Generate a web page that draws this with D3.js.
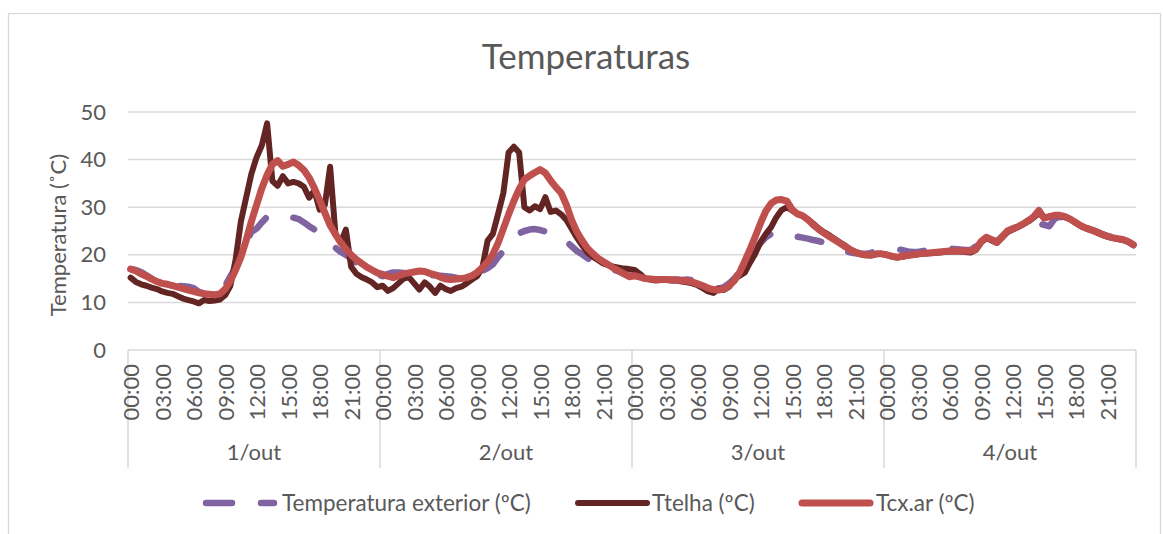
<!DOCTYPE html>
<html>
<head>
<meta charset="utf-8">
<script src="https://cdn.jsdelivr.net/npm/d3@7"></script>
<style>
  html, body { margin: 0; padding: 0; background: #fff; }
  svg { display: block; font-family: Lato, "Open Sans", sans-serif; }
</style>
</head>
<body>
<svg id="chart" width="1163" height="534"></svg>
<script>
// ---- DATA ----
const title = "Temperaturas";
const yTitle = "Temperatura (˚C)";
const days = ["1/out", "2/out", "3/out", "4/out"];
const hourLabels = ["00:00", "03:00", "06:00", "09:00", "12:00", "15:00", "18:00", "21:00"];
const yTicks = [0, 10, 20, 30, 40, 50];
const seriesNames = ["Temperatura exterior (ºC)", "Ttelha (ºC)", "Tcx.ar (ºC)"];

// half-hourly readings, 48 per day
const tExterior = [
  17.0,16.8,16.4,15.7,15.0,14.5,14.1,13.8,13.6,13.5,13.4,13.3, 13.0,12.2,11.9,11.8,11.8,12.2,13.5,15.5,17.2,19.5,22.5,24.8,
  25.5,26.8,28.0,28.5,28.4,28.2,28.0,27.8,27.5,26.8,26.0,25.3, 24.6,23.5,22.5,21.5,20.6,20.0,19.2,18.3,17.5,16.9,16.3,15.8,
  15.5,16.0,16.3,16.3,16.2,16.2,16.0,15.8,15.8,15.7,15.7,15.6, 15.5,15.4,15.2,15.2,15.4,15.6,16.0,16.6,17.2,18.0,19.5,20.8,
  22.0,23.5,24.5,25.0,25.3,25.4,25.2,24.9,24.6,24.2,23.6,22.8, 21.8,20.8,20.1,19.3,18.6,18.0,17.6,17.2,16.9,16.5,16.0,15.6,
  15.6,15.4,15.2,15.0,14.9,14.8,14.8,14.8,14.8,14.7,14.8,14.7, 14.4,13.8,13.3,13.0,12.9,13.2,14.0,15.0,16.5,18.2,19.8,21.3,
  22.5,23.7,24.4,24.6,24.9,24.6,24.0,23.8,23.6,23.4,23.1,22.9, 22.6,22.0,21.5,21.1,20.8,20.5,20.3,20.2,20.2,20.4,20.9,21.1,
  21.0,21.1,21.2,21.0,20.7,20.6,20.6,20.8,21.0,21.4,21.5,21.4, 21.3,21.2,21.1,21.0,21.0,21.8,24.0,24.4,23.3,22.8,23.8,24.8,
  25.4,25.8,26.2,26.4,26.6,26.5,26.3,26.0,27.6,28.0,27.8,27.3, 26.6,26.0,25.6,25.3,24.9,24.4,24.0,23.6,23.3,22.9,22.5,22.3
];
const tTelha = [
  15.2,14.3,13.8,13.5,13.1,12.8,12.3,12.0,11.8,11.3,10.8,10.5, 10.2,9.8,10.5,10.3,10.4,10.6,11.5,13.5,19.0,27.0,32.0,37.0,
  40.5,43.0,47.6,35.5,34.5,36.5,35.0,35.3,35.0,34.3,32.0,33.5, 29.5,30.5,38.5,24.5,22.5,25.3,17.5,16.0,15.3,14.8,14.2,13.2,
  13.5,12.4,13.0,14.0,15.0,15.3,14.0,12.7,14.2,13.3,12.0,13.5, 12.8,12.4,13.0,13.3,14.0,14.8,15.5,17.3,23.0,24.4,28.6,33.0,
  41.5,42.7,41.5,30.0,29.3,30.2,29.6,32.1,29.0,29.3,28.5,27.3, 25.5,23.6,22.0,20.5,19.6,18.9,18.2,17.8,17.5,17.3,17.1,17.0,
  16.8,16.0,15.0,14.8,14.6,14.7,14.8,14.6,14.6,14.4,14.2,14.0, 13.6,13.0,12.3,12.0,12.9,12.6,13.3,14.9,15.6,16.3,18.4,20.3,
  22.7,24.4,25.8,27.9,29.4,30.0,29.3,28.6,28.2,27.4,26.6,25.6, 24.8,24.2,23.4,22.7,22.0,21.2,20.6,20.1,19.9,19.9,20.1,20.2,
  20.0,19.6,19.4,19.6,19.8,20.0,20.1,20.2,20.3,20.4,20.5,20.6, 20.7,20.7,20.7,20.6,20.5,21.0,22.6,23.5,23.0,22.5,23.6,24.8,
  25.3,25.8,26.4,27.0,27.8,28.8,27.8,28.0,28.2,28.2,27.9,27.4, 26.7,26.0,25.5,25.1,24.7,24.2,23.8,23.5,23.3,23.1,22.7,22.0
];
const tCxAr = [
  17.0,16.6,16.0,15.5,14.9,14.4,14.0,13.8,13.5,13.2,12.9,12.6, 12.3,12.0,11.8,11.7,11.6,11.8,12.8,14.5,16.8,19.5,23.0,27.0,
  30.5,34.0,36.8,39.0,39.8,38.6,39.0,39.5,38.8,37.8,36.2,34.0, 31.5,28.8,26.2,24.3,22.6,21.2,20.0,19.0,18.2,17.4,16.8,16.2,
  15.9,15.5,15.2,15.6,16.0,16.2,16.4,16.6,16.5,16.1,15.8,15.3, 14.9,14.8,14.9,15.0,15.2,15.6,16.3,17.3,18.5,20.1,22.5,25.5,
  28.5,31.3,33.8,35.8,36.6,37.3,37.9,37.2,35.6,34.2,33.0,30.5, 27.3,24.8,23.0,21.4,20.3,19.3,18.6,17.9,17.2,16.6,16.0,15.4,
  15.6,15.3,15.0,14.9,14.8,14.8,14.8,14.7,14.7,14.6,14.5,14.3, 13.9,13.5,13.0,12.7,12.6,12.8,13.5,14.6,16.3,18.7,21.2,23.9,
  26.7,29.2,30.8,31.5,31.6,31.3,29.5,28.6,28.2,27.4,26.3,25.4, 24.6,23.9,23.2,22.5,21.8,21.1,20.6,20.2,20.0,19.9,20.2,20.2,
  20.0,19.7,19.5,19.7,19.9,20.0,20.2,20.3,20.4,20.5,20.6,20.7, 20.8,20.8,20.8,20.8,20.8,21.2,22.8,23.7,23.2,22.6,23.8,25.0,
  25.5,25.9,26.5,27.2,28.0,29.3,27.7,28.0,28.3,28.3,28.0,27.5, 26.8,26.1,25.6,25.2,24.8,24.3,23.9,23.6,23.4,23.2,22.8,22.1
];

// ---- LAYOUT ----
const textColor = "#595959";
const gridColor = "#D9D9D9";
const colors = ["#8064A2", "#632523", "#C0504D"];
const widths = [6.5, 6, 7];
const plot = { left: 128, right: 1136, top: 112, bottom: 350 };
const perDay = tCxAr.length / days.length;
const tickFont = 22;

const svg = d3.select("#chart");

// outer border
svg.append("rect").attr("x", 8.5).attr("y", 13.5).attr("width", 1152).attr("height", 540)
  .attr("fill", "#fff").attr("stroke", gridColor).attr("stroke-width", 1.3);

const x = d3.scaleBand().domain(d3.range(tCxAr.length)).range([plot.left, plot.right]);
const px = i => x(i) + x.bandwidth() / 2;
const y = d3.scaleLinear().domain([0, 50]).range([plot.bottom, plot.top]);
const dayScale = d3.scaleBand().domain(days).range([plot.left, plot.right]);

// title
svg.append("text").attr("x", 586).attr("y", 69).attr("text-anchor", "middle")
  .attr("font-size", 35).attr("fill", textColor).text(title);

// gridlines
svg.append("g").selectAll("line").data(yTicks.filter(t => t > 0)).join("line")
  .attr("x1", plot.left).attr("x2", plot.right)
  .attr("y1", d => y(d)).attr("y2", d => y(d))
  .attr("stroke", gridColor).attr("stroke-width", 1.5);

// y axis labels
const yAxis = d3.axisLeft(y).tickValues(yTicks).tickSize(0).tickPadding(0);
const gy = svg.append("g").attr("transform", "translate(106,0)").call(yAxis);
gy.select(".domain").remove();
gy.selectAll("text").attr("font-size", tickFont).attr("fill", textColor).attr("font-family", "Lato");

// y title
svg.append("text").attr("transform", "translate(66,235) rotate(-90)")
  .attr("text-anchor", "middle").attr("font-size", 22).attr("fill", textColor).text(yTitle);

// x axis line
svg.append("line").attr("x1", plot.left).attr("x2", plot.right)
  .attr("y1", plot.bottom).attr("y2", plot.bottom)
  .attr("stroke", gridColor).attr("stroke-width", 1.5);

// day separators
const bounds = days.map(d => dayScale(d)).concat([plot.right]);
svg.append("g").selectAll("line").data(bounds).join("line")
  .attr("x1", d => d).attr("x2", d => d).attr("y1", plot.bottom).attr("y2", 468)
  .attr("stroke", gridColor).attr("stroke-width", 1.5);

// hour labels
const xAxis = d3.axisBottom(x)
  .tickValues(d3.range(0, tCxAr.length, perDay / hourLabels.length))
  .tickFormat(i => hourLabels[(i % perDay) / (perDay / hourLabels.length)])
  .tickSize(0);
const gx = svg.append("g").attr("transform", `translate(0,${plot.bottom})`).call(xAxis);
gx.select(".domain").remove();
gx.selectAll("text")
  .attr("transform", "rotate(-90)")
  .attr("x", -14).attr("y", 0).attr("dy", "0.4em")
  .attr("text-anchor", "end")
  .attr("font-size", tickFont).attr("font-family", "Lato").attr("fill", textColor);

// day labels
svg.append("g").selectAll("text").data(days).join("text")
  .attr("x", d => dayScale(d) + dayScale.bandwidth() / 2).attr("y", 460)
  .attr("text-anchor", "middle").attr("font-size", 22).attr("fill", textColor)
  .text(d => d);

// lines
const series = [tExterior, tTelha, tCxAr];
const line = d3.line().x((d, i) => px(i)).y(d => y(d));
series.forEach((s, k) => {
  svg.append("path").datum(s).attr("d", line)
    .attr("fill", "none").attr("stroke", colors[k]).attr("stroke-width", widths[k])
    .attr("stroke-linejoin", "round").attr("stroke-linecap", "round")
    .attr("stroke-dasharray", k === 0 ? "24,29" : null);
});

// legend
const legend = [
  { x1: 206, x2: 274, tx: 282 },
  { x1: 578, x2: 647, tx: 652 },
  { x1: 802, x2: 870, tx: 876 }
];
legend.forEach((l, k) => {
  svg.append("line").attr("x1", l.x1).attr("x2", l.x2).attr("y1", 503).attr("y2", 503)
    .attr("stroke", colors[k]).attr("stroke-width", widths[k])
    .attr("stroke-linecap", "round")
    .attr("stroke-dasharray", k === 0 ? "26,29" : null);
  svg.append("text").attr("x", l.tx).attr("y", 511).attr("font-size", 22.5)
    .attr("fill", textColor).text(seriesNames[k]);
});
</script>
</body>
</html>
